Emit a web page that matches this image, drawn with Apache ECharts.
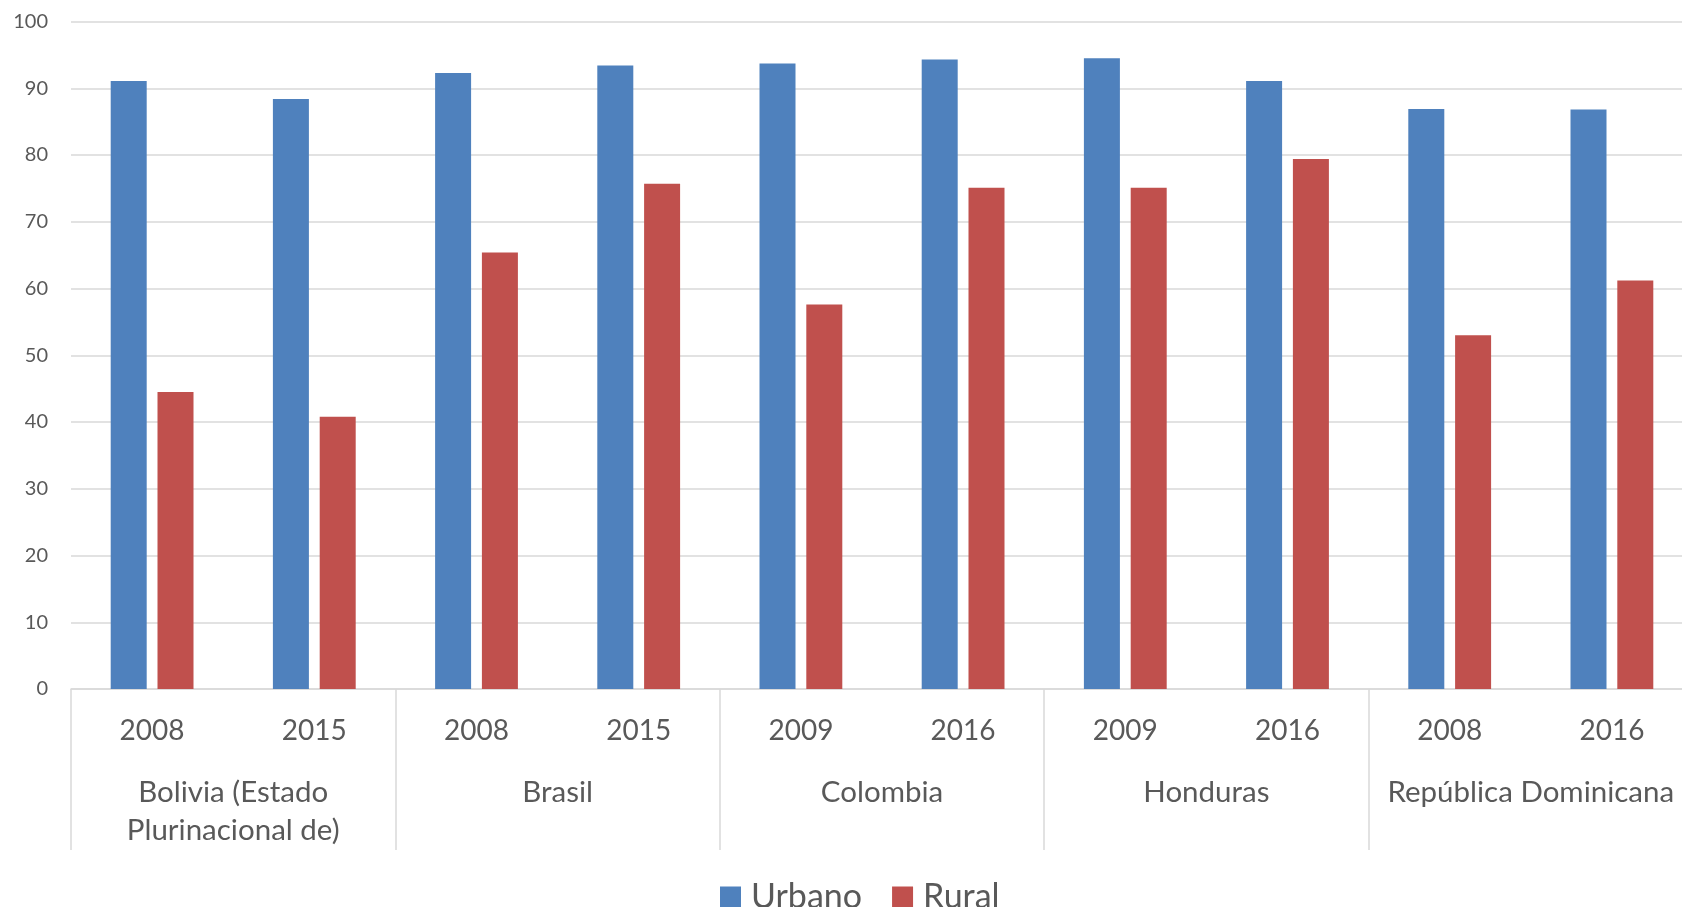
<!DOCTYPE html>
<html>
<head>
<meta charset="utf-8">
<script src="https://cdn.jsdelivr.net/npm/echarts@6/dist/echarts.min.js"></script>
<style>
  html, body { margin: 0; padding: 0; background: #fff; }
  #main { width: 1682px; height: 907px; }
</style>
</head>
<body>
<div id="main"></div>
<script>
// years shown under each bar pair
const years = ["2008", "2015", "2008", "2015", "2009", "2016", "2009", "2016", "2008", "2016"];
// country groups (2 years each)
const countries = ["Bolivia (Estado\nPlurinacional de)", "Brasil", "Colombia", "Honduras", "República Dominicana"];
const urbano = [91.1, 88.4, 92.3, 93.4, 93.7, 94.3, 94.5, 91.1, 86.9, 86.8];
const rural = [44.5, 40.8, 65.4, 75.7, 57.6, 75.1, 75.1, 79.4, 53.0, 61.2];

const textColor = "#595959";
const lineColor = "#d9d9d9";
const font = "Lato";

const chart = echarts.init(document.getElementById("main"));

chart.setOption({
  animation: false,
  textStyle: { fontFamily: font },
  grid: {
    left: 71,
    width: 1622, // plot runs a little past the right edge in the original
    top: 21.5,
    bottom: 218,
    containLabel: false,
    outerBoundsMode: "none",
  },
  legend: {
    left: 715,
    top: 875,
    icon: "rect",
    itemWidth: 21,
    itemHeight: 21,
    itemGap: 30,
    textStyle: {
      color: textColor,
      fontSize: 34,
      fontFamily: font,
      padding: [0, 0, 0, 5],
    },
    data: ["Urbano", "Rural"],
  },
  xAxis: [
    {
      type: "category",
      data: years,
      position: "bottom",
      axisLine: { show: true, lineStyle: { color: lineColor, width: 1.5 } },
      axisTick: { show: false },
      axisLabel: {
        color: textColor,
        fontSize: 28,
        margin: 27,
        lineHeight: 30,
      },
    },
    {
      type: "category",
      data: countries,
      position: "bottom",
      axisLine: { show: false },
      axisTick: {
        show: true,
        interval: 0,
        length: 161,
        lineStyle: { color: lineColor, width: 1.5 },
      },
      axisLabel: {
        color: textColor,
        fontSize: 29.5,
        margin: 84,
        lineHeight: 38,
        interval: 0,
      },
    },
  ],
  yAxis: {
    type: "value",
    min: 0,
    max: 100,
    interval: 10,
    axisLine: { show: false },
    axisTick: { show: false },
    axisLabel: { color: textColor, fontSize: 20, margin: 23 },
    splitLine: { lineStyle: { color: lineColor, width: 1.5 } },
  },
  series: [
    {
      name: "Urbano",
      type: "bar",
      xAxisIndex: 0,
      barWidth: 36,
      barGap: "30%",
      itemStyle: { color: "#4F81BD" },
      data: urbano,
    },
    {
      name: "Rural",
      type: "bar",
      xAxisIndex: 0,
      barWidth: 36,
      barGap: "30%",
      itemStyle: { color: "#C0504D" },
      data: rural,
    },
  ],
});
</script>
</body>
</html>
